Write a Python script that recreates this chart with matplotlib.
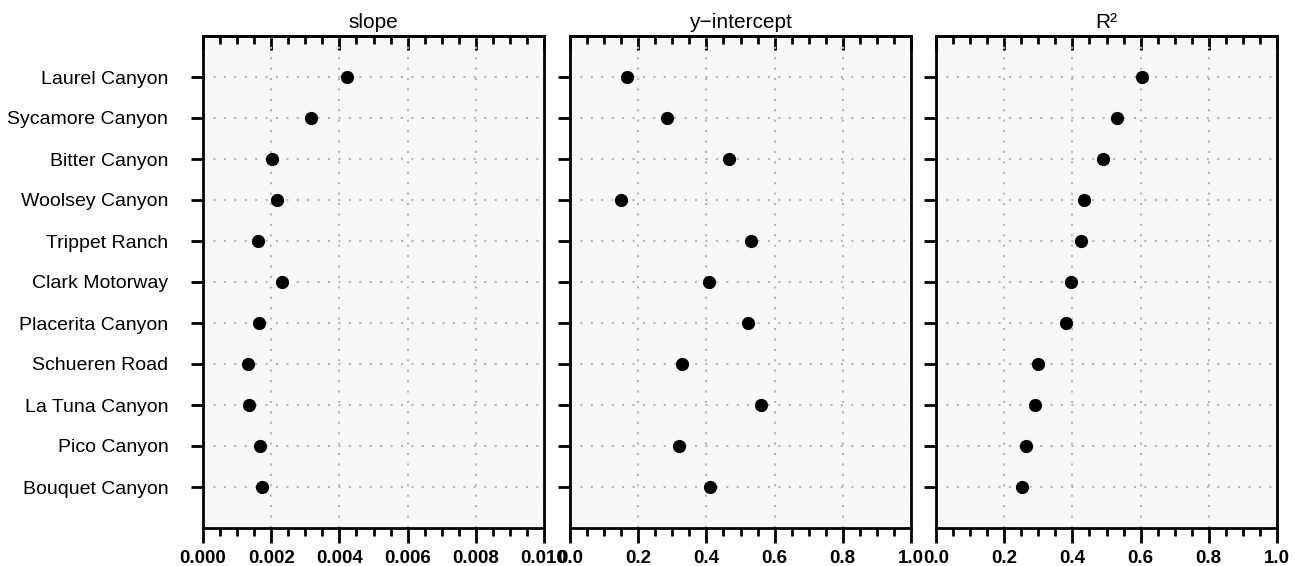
import matplotlib
matplotlib.use("Agg")
import matplotlib.pyplot as plt
from matplotlib.ticker import MultipleLocator, FormatStrFormatter

plt.rcParams['font.family'] = ['Liberation Sans', 'DejaVu Sans']

# data
sites = ["Laurel Canyon", "Sycamore Canyon", "Bitter Canyon", "Woolsey Canyon",
         "Trippet Ranch", "Clark Motorway", "Placerita Canyon", "Schueren Road",
         "La Tuna Canyon", "Pico Canyon", "Bouquet Canyon"]
slope = [0.00423, 0.00317, 0.00203, 0.00216, 0.00162, 0.00233, 0.00164,
         0.00132, 0.00135, 0.00166, 0.00174]
intercept = [0.168, 0.284, 0.466, 0.149, 0.532, 0.409, 0.523, 0.329, 0.561,
             0.321, 0.411]
r2 = [0.603, 0.532, 0.491, 0.435, 0.424, 0.395, 0.381, 0.299, 0.290, 0.263,
      0.252]

titles = ["slope", "y\u2212intercept", "R\u00b2"]
xmax = [0.010, 1.0, 1.0]
xstep = [0.002, 0.2, 0.2]
xfmt = ["%.3f", "%.1f", "%.1f"]
series = [slope, intercept, r2]

W, H = 1298, 566
fig = plt.figure(figsize=(W / 100, H / 100), dpi=100)

lefts = [203, 570, 936]
n = len(sites)
for k in range(3):
    ax = fig.add_axes([lefts[k] / W, 1 - 528 / H, 341 / W, (528 - 36) / H])
    ax.set_facecolor('#f8f8f8')
    ax.plot(series[k], range(n), 'o', color='black', ms=8.5, zorder=3)
    ax.set_xlim(0, xmax[k])
    ax.set_ylim(n, -1)
    ax.xaxis.set_major_locator(MultipleLocator(xstep[k]))
    ax.xaxis.set_minor_locator(MultipleLocator(xstep[k] / 4))
    ax.xaxis.set_major_formatter(FormatStrFormatter(xfmt[k]))
    ax.set_yticks(range(n))
    if k == 0:
        ax.set_yticklabels(sites, fontsize=14)
    else:
        ax.set_yticklabels([])
    ax.grid(True, which='major', linestyle=(0, (1, 4)), color='#b8b8b8', lw=1.5)
    ax.set_axisbelow(True)
    for sp in ax.spines.values():
        sp.set_linewidth(2)
    ax.tick_params(axis='y', which='major', direction='out', length=9, width=2,
                   pad=16, right=False)
    ax.tick_params(axis='x', which='major', direction='out', length=11, width=2,
                   pad=5, top=False, labelsize=13.5)
    ax.tick_params(axis='x', which='minor', direction='out', length=6, width=2,
                   top=False)
    for lab in ax.get_xticklabels():
        lab.set_fontweight('bold')
    top = ax.secondary_xaxis('top')
    top.xaxis.set_major_locator(MultipleLocator(xstep[k]))
    top.xaxis.set_minor_locator(MultipleLocator(xstep[k] / 4))
    top.tick_params(which='major', direction='in', length=10, width=2, labeltop=False)
    top.tick_params(which='minor', direction='in', length=6, width=2)
    top.spines['top'].set_linewidth(2)
    ax.set_title(titles[k], fontsize=15, pad=6)

fig.savefig("out.png", dpi=100)
